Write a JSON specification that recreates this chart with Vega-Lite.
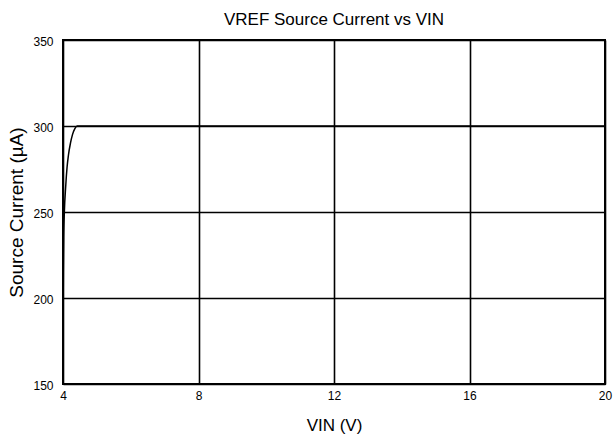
{
  "$schema": "https://vega.github.io/schema/vega-lite/v6.json",
  "width": 542,
  "height": 344,
  "autosize": {"type": "none"},
  "padding": {"left": 63, "top": 40, "right": 9, "bottom": 50},
  "background": "white",
  "config": {
    "font": "Liberation Sans",
    "view": {"stroke": "black", "strokeWidth": 2},
    "axis": {
      "grid": true,
      "gridColor": "black",
      "gridWidth": 1.6,
      "gridOpacity": 1,
      "domain": false,
      "ticks": false,
      "labelFont": "Liberation Sans",
      "labelFontSize": 12,
      "labelColor": "black",
      "titleFont": "Liberation Sans",
      "titleFontSize": 17,
      "titleFontWeight": "normal",
      "titleColor": "black"
    }
  },
  "title": {
    "text": "VREF Source Current vs VIN",
    "font": "Liberation Sans",
    "fontSize": 17,
    "fontWeight": "normal",
    "color": "black",
    "anchor": "middle",
    "offset": 6
  },
  "data": {
    "values": [
      {"v": 4.0, "i": 178},
      {"v": 4.01, "i": 215},
      {"v": 4.02, "i": 235},
      {"v": 4.04, "i": 250},
      {"v": 4.08, "i": 265},
      {"v": 4.12, "i": 276},
      {"v": 4.16, "i": 283},
      {"v": 4.22, "i": 290},
      {"v": 4.28, "i": 295},
      {"v": 4.35, "i": 298.5},
      {"v": 4.42, "i": 300},
      {"v": 20, "i": 300}
    ]
  },
  "mark": {"type": "line", "color": "black", "strokeWidth": 1.5, "interpolate": "monotone", "clip": true},
  "encoding": {
    "x": {
      "field": "v",
      "type": "quantitative",
      "scale": {"domain": [4, 20], "nice": false, "zero": false},
      "axis": {"values": [4, 8, 12, 16, 20], "title": "VIN (V)", "labelPadding": 6, "titlePadding": 16, "labelFlush": false}
    },
    "y": {
      "field": "i",
      "type": "quantitative",
      "scale": {"domain": [150, 350], "nice": false, "zero": false},
      "axis": {"values": [150, 200, 250, 300, 350], "title": "Source Current (µA)", "titleFontSize": 19, "labelPadding": 10, "labelBaseline": "middle", "labelOffset": 1, "titlePadding": 6}
    }
  }
}
